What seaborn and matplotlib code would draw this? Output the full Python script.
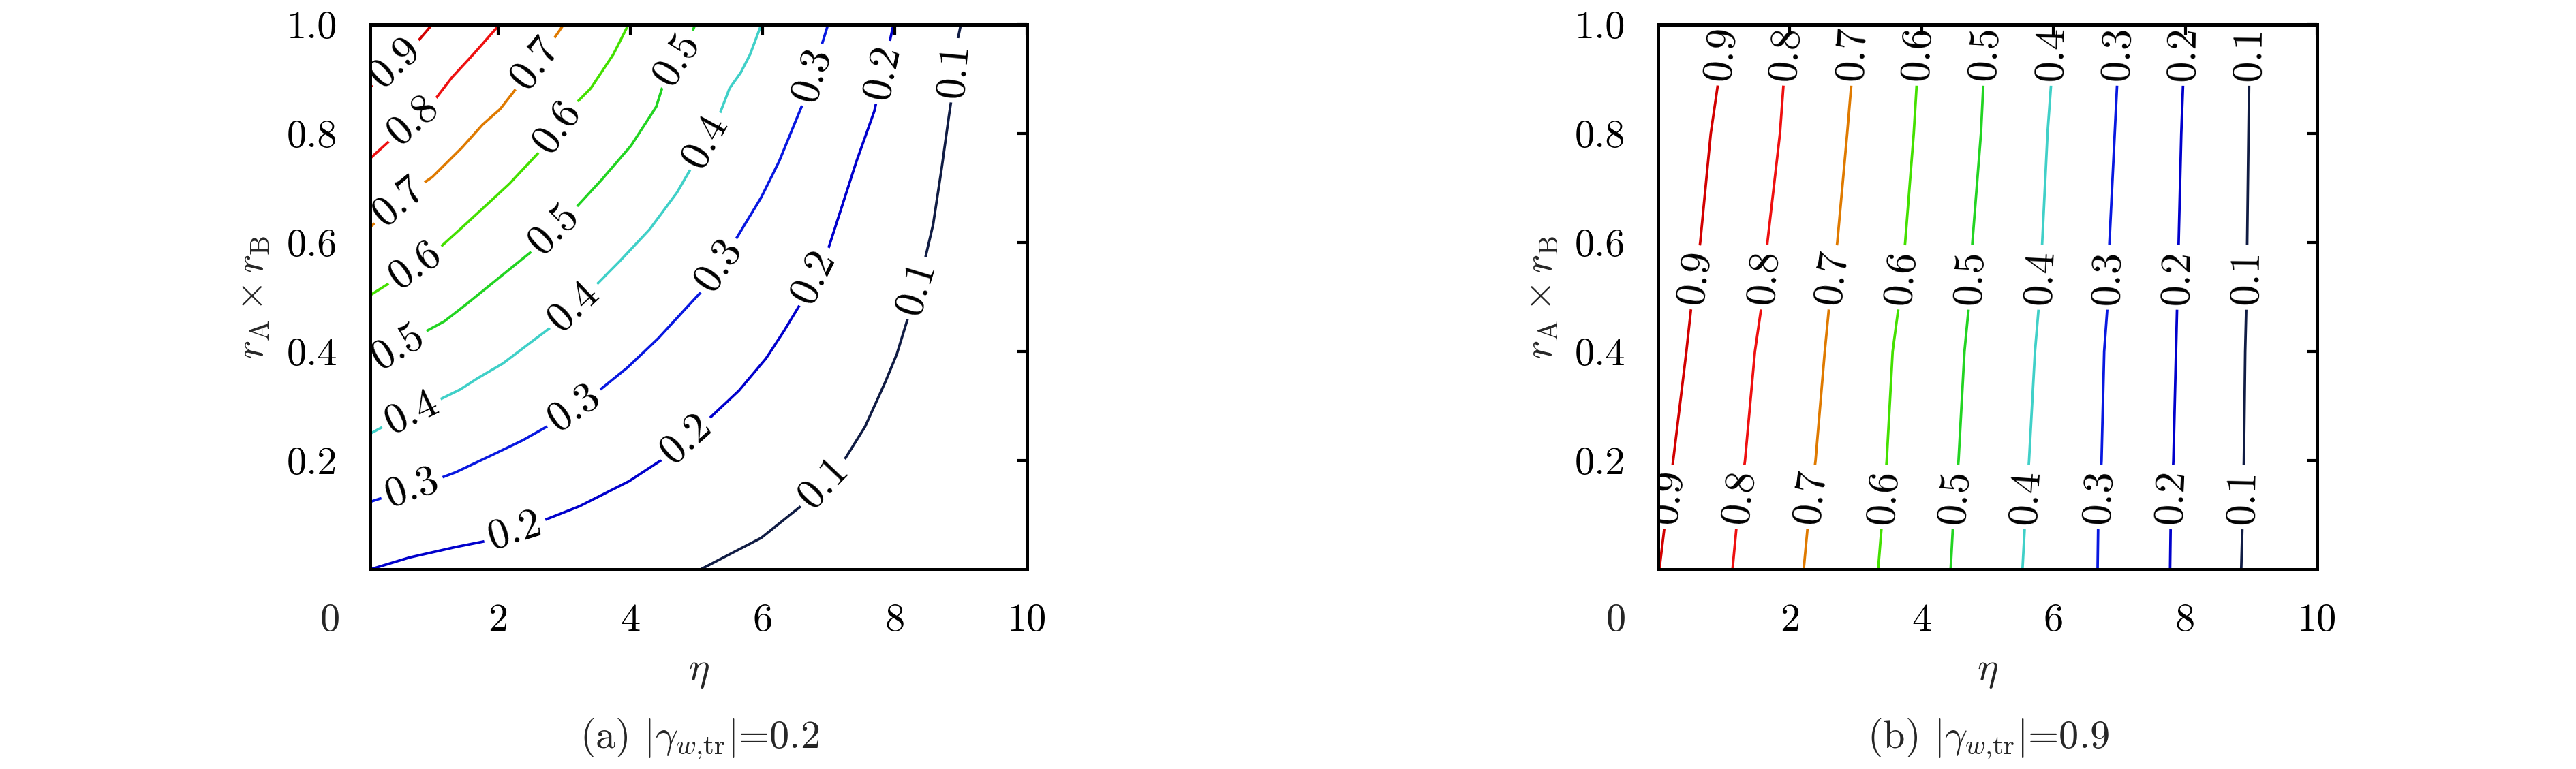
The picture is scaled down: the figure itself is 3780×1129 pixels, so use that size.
import numpy as np
import pandas as pd
import matplotlib
matplotlib.use("Agg")
import matplotlib.pyplot as plt
import seaborn as sns
from matplotlib.transforms import offset_copy

# ---------------- data ----------------
LEVELS = ["0.1", "0.2", "0.3", "0.4", "0.5", "0.6", "0.7", "0.8", "0.9"]

# panel (a) |gamma|=0.2 : contour lines as (eta, r) points
left_eta_09 = [0.06, 0.14, 0.61, 0.76, 1.00]
left_r_09 = [0.885, 0.895, 0.949, 0.966, 1.000]
left_eta_08 = [0.06, 0.36, 0.97, 1.30, 1.62, 2.02]
left_r_08 = [0.754, 0.787, 0.851, 0.903, 0.945, 1.000]
left_eta_07 = [0.06, 0.70, 1.00, 1.45, 1.76, 2.03, 2.30, 2.75, 2.99]
left_r_07 = [0.628, 0.695, 0.720, 0.774, 0.816, 0.845, 0.887, 0.958, 1.000]
left_eta_06 = [0.06, 0.36, 1.00, 1.42, 1.76, 2.17, 2.65, 3.09, 3.40, 3.74, 3.97]
left_r_06 = [0.503, 0.526, 0.578, 0.624, 0.662, 0.708, 0.770, 0.845, 0.883, 0.945, 1.000]
left_eta_05 = [0.06, 0.80, 1.18, 1.50, 2.03, 2.54, 3.06, 3.57, 4.01, 4.39, 4.52, 4.87, 4.98]
left_r_05 = [0.376, 0.430, 0.455, 0.485, 0.537, 0.587, 0.649, 0.716, 0.778, 0.849, 0.899, 0.966, 1.000]
left_eta_04 = [0.06, 0.32, 1.00, 1.42, 1.69, 2.07, 2.44, 2.89, 3.40, 3.84, 4.29, 4.70,
               4.94, 5.30, 5.50, 5.67, 5.81, 5.98]
left_r_04 = [0.249, 0.266, 0.305, 0.330, 0.351, 0.378, 0.412, 0.453, 0.512, 0.566, 0.624, 0.691,
             0.741, 0.820, 0.883, 0.912, 0.945, 1.000]
left_eta_03 = [0.06, 0.80, 1.35, 1.89, 2.37, 2.85, 3.40, 3.95, 4.42, 4.83, 5.06, 5.54,
               5.98, 6.25, 6.49, 6.66, 6.87, 6.99]
left_r_03 = [0.124, 0.153, 0.178, 0.209, 0.237, 0.270, 0.316, 0.370, 0.424, 0.478, 0.508, 0.595,
             0.683, 0.749, 0.820, 0.870, 0.953, 1.000]
left_eta_02 = [0.06, 0.66, 1.35, 1.93, 2.58, 3.23, 3.98, 4.56, 5.06, 5.64, 6.05, 6.32,
               6.60, 7.00, 7.42, 7.69, 7.98]
left_r_02 = [0.000, 0.022, 0.041, 0.055, 0.085, 0.116, 0.162, 0.208, 0.262, 0.328, 0.387, 0.437,
             0.493, 0.591, 0.749, 0.841, 1.000]
left_eta_01 = [5.06, 5.98, 6.66, 7.18, 7.55, 7.86, 8.03, 8.20, 8.41, 8.58, 8.71, 8.82, 8.87, 8.94, 9.00]
left_r_01 = [0.000, 0.058, 0.124, 0.190, 0.262, 0.345, 0.395, 0.462, 0.545, 0.633, 0.737, 0.833,
             0.874, 0.966, 1.000]

# panel (b) |gamma|=0.9 : eta of each contour at these r values
right_r = [0.0, 0.09, 0.2, 0.4, 0.5, 0.6, 0.8, 0.9, 1.0]
right_eta_09 = [0.02, 0.11, 0.23, 0.43, 0.52, 0.64, 0.80, 0.92, 1.01]
right_eta_08 = [1.13, 1.20, 1.32, 1.47, 1.59, 1.66, 1.85, 1.91, 1.98]
right_eta_07 = [2.21, 2.28, 2.39, 2.53, 2.61, 2.72, 2.87, 2.94, 2.98]
right_eta_06 = [3.34, 3.40, 3.47, 3.56, 3.67, 3.75, 3.88, 3.93, 3.97]
right_eta_05 = [4.44, 4.48, 4.56, 4.65, 4.73, 4.77, 4.90, 4.94, 4.99]
right_eta_04 = [5.53, 5.57, 5.63, 5.72, 5.79, 5.83, 5.91, 5.97, 5.99]
right_eta_03 = [6.67, 6.68, 6.73, 6.77, 6.83, 6.85, 6.93, 6.97, 7.00]
right_eta_02 = [7.77, 7.78, 7.82, 7.86, 7.88, 7.90, 7.94, 7.97, 7.98]
right_eta_01 = [8.85, 8.87, 8.89, 8.91, 8.93, 8.94, 8.96, 8.97, 8.98]

x_ticks = [2, 4, 6, 8, 10]
x_tick_labels = ["2", "4", "6", "8", "10"]
y_ticks = [0.2, 0.4, 0.6, 0.8, 1.0]
y_tick_labels = ["0.2", "0.4", "0.6", "0.8", "1.0"]
captions = [r"(a) $|\gamma_{w{,}\mathrm{tr}}|$=0.2", r"(b) $|\gamma_{w{,}\mathrm{tr}}|$=0.9"]

# ---------------- style / layout ----------------
PALETTE = {"0.9": "#d20000", "0.8": "#ee1010", "0.7": "#df7a00", "0.6": "#44e000",
           "0.5": "#22d422", "0.4": "#40d0c8", "0.3": "#0818e0", "0.2": "#0000cc",
           "0.1": "#101c44"}

# label positions along lines (r coordinates)
left_label_r = {"0.9": [0.93], "0.8": [0.824], "0.7": [0.674, 0.928], "0.6": [0.5575, 0.812],
                "0.5": [0.4075, 0.624, 0.936], "0.4": [0.287, 0.4825, 0.785],
                "0.3": [0.149, 0.295, 0.5575, 0.9075], "0.2": [0.07, 0.2385, 0.537, 0.912],
                "0.1": [0.1575, 0.516, 0.916]}
right_label_r = {lev: [0.133, 0.536, 0.947] for lev in LEVELS}

left_lines = {"0.1": (left_eta_01, left_r_01), "0.2": (left_eta_02, left_r_02),
              "0.3": (left_eta_03, left_r_03), "0.4": (left_eta_04, left_r_04),
              "0.5": (left_eta_05, left_r_05), "0.6": (left_eta_06, left_r_06),
              "0.7": (left_eta_07, left_r_07), "0.8": (left_eta_08, left_r_08),
              "0.9": (left_eta_09, left_r_09)}
right_lines = {"0.1": (right_eta_01, right_r), "0.2": (right_eta_02, right_r),
               "0.3": (right_eta_03, right_r), "0.4": (right_eta_04, right_r),
               "0.5": (right_eta_05, right_r), "0.6": (right_eta_06, right_r),
               "0.7": (right_eta_07, right_r), "0.8": (right_eta_08, right_r),
               "0.9": (right_eta_09, right_r)}


def long_frame(lines):
    rows = []
    for lev, (eta, r) in lines.items():
        for e, rr in zip(eta, r):
            rows.append({"eta": e, "r": rr, "level": lev})
    return pd.DataFrame(rows)


sns.set_style("white")
plt.rcParams.update({
    "font.family": ["cmr10", "DejaVu Serif"],
    "mathtext.fontset": "cm",
    "axes.formatter.use_mathtext": True,
    "axes.unicode_minus": False,
})

W, H, DPI = 3780, 1129, 300
fig = plt.figure(figsize=(W / DPI, H / DPI), dpi=DPI)
fig.patch.set_facecolor("white")

ax_bottom = (H - 836) / H
ax_height = 800 / H
axes_specs = [
    (543 / W, 964 / W, (0.06, 10), left_lines, left_label_r, -0.0612, -0.1774, captions[0], 1027 / W),
    (2433 / W, 967 / W, (0.0, 10), right_lines, right_label_r, -0.0641, -0.1750, captions[1], 2917 / W),
]

TICK_FS = 14
LABEL_FS = 15
XPAD = 12
YPAD = 11.5

for (x0, w, xlim, lines, label_r, zero_x, ylab_x, cap, cap_x) in axes_specs:
    ax = fig.add_axes([x0, ax_bottom, w, ax_height])
    df = long_frame(lines)
    sns.lineplot(data=df, x="eta", y="r", hue="level", hue_order=LEVELS, palette=PALETTE,
                 orient="y", estimator=None, sort=True, legend=False, linewidth=0.9, ax=ax)
    ax.set_xlim(*xlim)
    ax.set_ylim(0, 1)

    # inline contour labels
    for lev, rs in label_r.items():
        eta = np.asarray(lines[lev][0], float)
        r = np.asarray(lines[lev][1], float)
        for rl in rs:
            xl = np.interp(rl, r, eta)
            ya, yb = max(rl - 0.03, r.min()), min(rl + 0.03, r.max())
            xa, xb = np.interp(ya, r, eta), np.interp(yb, r, eta)
            ang = np.degrees(np.arctan2(yb - ya, xb - xa))
            ax.text(xl, rl, lev, rotation=ang, transform_rotates_text=True,
                    rotation_mode="anchor", ha="center", va="center", fontsize=LABEL_FS,
                    color="black", zorder=2.3, clip_on=True,
                    bbox=dict(boxstyle="square,pad=0.12", fc="white", ec="none"))

    ax.set_xticks(x_ticks)
    ax.set_xticklabels(x_tick_labels)
    ax.set_yticks(y_ticks)
    ax.set_yticklabels(y_tick_labels)
    ax.tick_params(direction="in", length=3.5, width=1.0, top=True, right=True,
                   labelsize=TICK_FS, colors="black")
    ax.tick_params(axis="x", pad=XPAD)
    ax.tick_params(axis="y", pad=YPAD)
    ax.set_axisbelow(False)
    for sp in ax.spines.values():
        sp.set_visible(True)
        sp.set_linewidth(1.2)
        sp.set_color("black")
        sp.set_zorder(3)

    # the separate "0" on the eta axis
    ax.text(zero_x, 0, "0", transform=offset_copy(ax.transAxes, fig=fig, x=0, y=-XPAD, units="points"),
            ha="center", va="top", fontsize=TICK_FS)

    ax.set_xlabel(r"$\eta$", fontsize=TICK_FS, va="center")
    ax.xaxis.set_label_coords(0.5, -0.189)
    ax.set_ylabel(r"$r_{\mathrm{A}}\times r_{\mathrm{B}}$", fontsize=TICK_FS, va="center")
    ax.yaxis.set_label_coords(ylab_x, 0.5)

    fig.text(cap_x, 1 - 1085 / H, cap, ha="center", va="center", fontsize=TICK_FS)

fig.savefig("out.png", dpi=DPI, facecolor="white")
